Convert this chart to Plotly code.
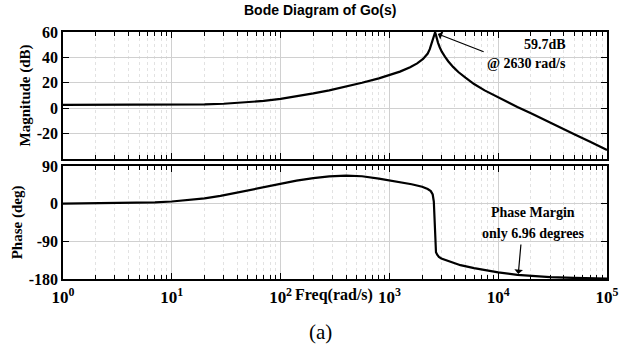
import plotly.graph_objects as go
import numpy as np

# ---- data ----
mag_freq = [1, 5, 10, 20, 30, 50, 70, 100, 140, 200, 280, 400, 560, 800,
            1000, 1250, 1550, 1800, 2040, 2250, 2350, 2440, 2530, 2600, 2630, 2660,
            2720, 2800, 2900, 3030, 3250, 3470, 3850, 4300, 5000, 6000, 7500, 10000,
            15000, 20000, 31600, 50000, 70000, 100000]
mag_db = [2.6, 2.6, 2.7, 3.0, 3.5, 4.5, 5.7, 7.3, 9.2, 11.6, 14.0, 16.8, 20.0, 23.5,
          26.0, 28.8, 32.3, 35.3, 38.8, 43.0, 46.5, 50.5, 55.5, 58.8, 59.7, 58.5,
          55.0, 51.5, 48.0, 44.5, 40.5, 37.0, 32.5, 28.5, 24.0, 19.0, 14.0, 8.5,
          1.0, -4.0, -12.5, -20.5, -26.5, -33.0]

ph_freq = [1, 2, 3, 5, 7, 10, 14, 20, 28, 40, 56, 80, 100, 140, 200, 280, 400, 560,
           800, 1000, 1260, 1600, 2000, 2250, 2400, 2500, 2560, 2600, 2640, 2680, 2750,
           2850, 3000, 3600, 4500, 6000, 8000, 10000, 15000, 20000, 30000, 50000, 100000]
ph_deg = [0.0, 0.6, 1.1, 2.1, 3.2, 5.2, 8.0, 12.5, 18.5, 26.5, 35.0, 43.5, 48.0, 55.0, 61.0, 65.0, 67.0, 65.5,
          60.0, 56.0, 51.5, 46.5, 40.5, 35.0, 30.0, 22.0, 5.0, -40.0, -95.0, -116.0, -122.0,
          -127.0, -131.0, -139.0, -147.0, -154.0, -160.0, -164.0, -170.0, -173.0, -175.5, -177.5, -179.0]

x_tickvals = [1, 10, 100, 1000, 10000, 100000]
x_ticktext = ["10<sup>0</sup>", "10<sup>1</sup>", "10<sup>2</sup>", "10<sup>3</sup>",
              "10<sup>4</sup>", "10<sup>5</sup>"]
mag_ticks = [-20, 0, 20, 40, 60]
ph_ticks = [-180, -90, 0, 90]

minor_vals = [m * 10 ** k for k in range(0, 5) for m in range(2, 10)]

SERIF = "Liberation Serif"
fig = go.Figure()
fig.add_trace(go.Scatter(x=mag_freq, y=mag_db, mode="lines", xaxis="x", yaxis="y",
                         line=dict(color="black", width=2.2, shape="linear"),
                         showlegend=False))
fig.add_trace(go.Scatter(x=ph_freq, y=ph_deg, mode="lines", xaxis="x2", yaxis="y2",
                         line=dict(color="black", width=2.2, shape="linear"),
                         showlegend=False))

xcommon = dict(type="log", range=[0, 5], showline=True, linecolor="black", linewidth=1.5,
               mirror="ticks", ticks="inside", ticklen=6, tickcolor="black",
               tickvals=x_tickvals, ticktext=x_ticktext,
               showgrid=True, gridcolor="#d0d0d0", gridwidth=1, zeroline=False,
               minor=dict(tickvals=minor_vals, ticks="inside", ticklen=4, tickcolor="black",
                          showgrid=True, gridcolor="#e2e2e2", griddash="dot", gridwidth=1),
               tickfont=dict(family=SERIF, size=17, color="black"))
ycommon = dict(showline=True, linecolor="black", linewidth=1.5, mirror="ticks",
               ticks="inside", ticklen=6, tickcolor="black",
               showgrid=True, gridcolor="#d0d0d0", zeroline=False,
               tickfont=dict(family=SERIF, size=16, color="black"))

fig.update_layout(
    width=630, height=350,
    margin=dict(l=63, r=23, t=32, b=71),
    paper_bgcolor="white", plot_bgcolor="white",
    xaxis=dict(xcommon, anchor="y", showticklabels=False),
    yaxis=dict(ycommon, domain=[0.486, 1], range=[-40, 60], tickvals=mag_ticks,
               ticktext=["<b>%d</b>" % v for v in mag_ticks],
               title=dict(text="<b>Magnitude (dB)</b>", font=dict(family=SERIF, size=15, color="black"),
                          standoff=2)),
    xaxis2=dict(xcommon, anchor="y2", matches="x",
                ticktext=["<b>%s</b>" % t for t in x_ticktext]),
    yaxis2=dict(ycommon, domain=[0, 0.4575], range=[-180, 90], tickvals=ph_ticks,
                ticktext=["<b>%d</b>" % v for v in ph_ticks],
                title=dict(text="<b>Phase (deg)</b>", font=dict(family=SERIF, size=15, color="black"),
                           standoff=2)),
)
fig.update_xaxes(ticklabelstandoff=2)

ann = []
ann.append(dict(text="<b>Bode Diagram of Go(s)</b>", xref="paper", yref="paper",
                x=(320 - 63) / 544, y=(279 - 10) / 247, showarrow=False,
                xanchor="center", yanchor="middle",
                font=dict(family="Liberation Sans", size=14, color="black")))
ann.append(dict(text="<b>59.7dB</b>", xref="x", yref="y", x=4.64, y=50, showarrow=False,
                xanchor="right", yanchor="middle", font=dict(family=SERIF, size=14, color="black")))
ann.append(dict(text="<b>@ 2630 rad/s</b>", xref="x", yref="y", x=4.64, y=35.5, showarrow=False,
                xanchor="right", yanchor="middle", font=dict(family=SERIF, size=14, color="black")))
ann.append(dict(text="", xref="x", yref="y", x=np.log10(2630) + 0.025, y=58.5,
                axref="x", ayref="y", ax=3.88, ay=44, showarrow=True,
                arrowhead=1, arrowsize=1.2, arrowwidth=1.2, arrowcolor="black"))
ann.append(dict(text="<b>Phase Margin</b>", xref="x2", yref="y2", x=4.32, y=-22, showarrow=False,
                xanchor="center", yanchor="middle", font=dict(family=SERIF, size=14, color="black")))
ann.append(dict(text="<b>only 6.96 degrees</b>", xref="x2", yref="y2", x=4.32, y=-71, showarrow=False,
                xanchor="center", yanchor="middle", font=dict(family=SERIF, size=14, color="black")))
ann.append(dict(text="", xref="x2", yref="y2", x=np.log10(15300), y=-168,
                axref="x2", ayref="y2", ax=4.21, ay=-94, showarrow=True,
                arrowhead=1, arrowsize=1.2, arrowwidth=1.2, arrowcolor="black"))
ann.append(dict(text="<b>Freq(rad/s)</b>", xref="paper", yref="paper",
                x=(334 - 63) / 544, y=(279 - 295) / 247, showarrow=False,
                xanchor="center", yanchor="middle", font=dict(family=SERIF, size=16, color="black")))
ann.append(dict(text="(a)", xref="paper", yref="paper",
                x=(320 - 63) / 544, y=(279 - 332) / 247, showarrow=False,
                xanchor="center", yanchor="middle", font=dict(family=SERIF, size=21, color="black")))
fig.update_layout(annotations=ann)

fig.write_html("out.html")
